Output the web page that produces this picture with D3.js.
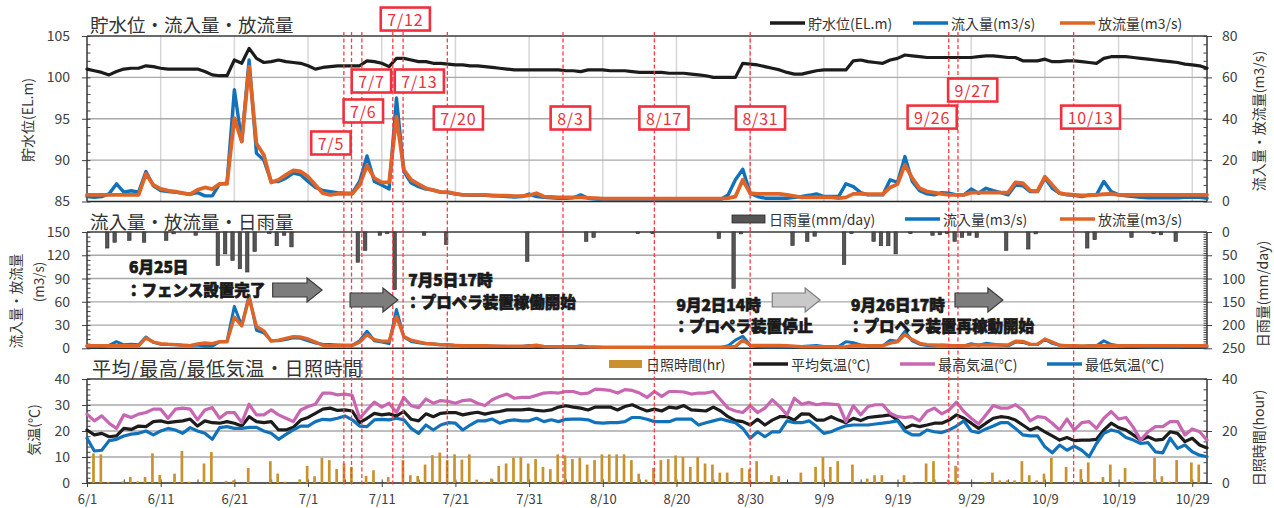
<!DOCTYPE html>
<html>
<head>
<meta charset="utf-8">
<script src="https://cdn.jsdelivr.net/npm/d3@7"></script>
<style>
  html, body { margin: 0; padding: 0; background: #fff; }
  svg { display: block; }
</style>
</head>
<body>
<svg id="chart" width="1274" height="508"></svg>
<script>
// ---------------- data (one value per day, 6/1 .. 10/31) ----------------
const xTickLabels = ["6/1","6/11","6/21","7/1","7/11","7/21","7/31","8/10","8/20","8/30","9/9","9/19","9/29","10/9","10/19","10/29"];

// 貯水位 (EL.m)
const level = [
  101.0,100.8,100.6,100.3,100.7,101.0,101.1,101.1,101.4,101.3,
  101.1,101.0,101.0,101.0,101.0,101.0,100.7,100.3,100.2,100.2,
  102.1,101.7,103.5,102.3,101.8,101.9,102.1,101.9,101.8,101.7,
  101.4,101.0,101.2,101.3,101.4,101.4,101.4,101.4,102.0,101.9,
  101.7,101.3,102.3,102.3,102.1,101.9,101.9,101.7,101.7,101.6,
  101.5,101.5,101.4,101.4,101.3,101.2,101.1,101.0,100.9,100.9,
  100.9,100.9,100.9,100.9,100.9,100.8,100.8,100.7,100.9,100.9,
  100.9,100.8,100.8,100.8,100.7,100.6,100.6,100.6,100.6,100.5,
  100.5,100.5,100.4,100.3,100.2,100.0,100.0,100.0,100.0,101.7,
  101.6,101.5,101.3,101.1,100.9,100.6,100.4,100.4,100.6,100.8,
  100.9,100.9,100.9,100.9,102.0,102.1,101.9,101.8,101.7,102.1,
  102.3,102.7,102.6,102.5,102.4,102.4,102.4,102.4,102.4,102.4,
  102.4,102.5,102.6,102.6,102.5,102.4,102.4,102.0,102.0,102.0,
  102.2,101.9,101.9,102.0,102.0,101.9,101.8,101.7,102.3,102.5,
  102.5,102.5,102.4,102.3,102.2,102.1,102.0,101.9,101.8,101.6,
  101.5,101.4,101.1
];

// 流入量 (m3/s)
const inflow = [
  2.4,2.0,2.4,3.7,8.5,4.5,5.2,4.5,14.5,7.6,
  5.3,4.8,4.5,4.0,3.5,4.3,2.7,2.7,8.5,8.9,
  54,29,68.4,23.3,20,9.7,9.7,11.3,13.7,12.9,
  9.7,6.8,5.3,4.8,4.3,4.0,4.0,9.7,22,9.7,
  8,6,50,14.5,8.9,7.2,6,5.5,4.5,4.3,
  3.6,3.2,3.0,3.0,3.0,2.8,2.6,2.4,2.2,2.4,
  3.6,2.4,2.0,1.8,1.6,1.6,1.8,3.2,1.6,1.2,
  1.0,1.0,1.0,1.0,1.0,1.0,1.0,1.0,0.9,0.9,
  0.9,0.9,0.9,0.9,0.9,0.9,1.0,3.2,10.5,15.6,
  4.0,2.4,1.6,1.6,1.6,1.6,2.0,2.4,3.0,3.7,
  2.4,2.4,2.4,8.6,7.2,4.3,3.2,3.2,3.2,10.5,
  9.2,21.7,9.7,5.2,3.7,3.2,4.3,4.0,3.2,3.2,
  6.0,4.0,6.4,5.3,4.3,3.2,8.0,7.6,4.8,4.8,
  11.3,6.4,4.0,3.2,3.0,2.4,3.2,3.2,9.7,4.8,
  3.2,2.8,2.4,2.0,1.8,1.8,1.8,1.8,1.8,2.0,
  2.0,2.0,1.6
];

// 放流量 (m3/s)
const outflow = [
  3.2,3.2,3.2,3.2,3.2,3.2,3.2,3.2,13.4,8,
  6.1,5.3,4.8,4.0,3.5,5.6,6.8,6.0,8.5,8.5,
  40.3,29,65.2,28,22.5,9.2,10.5,12.9,15,14.5,
  12,8,4,3.2,3.7,3.7,3.7,8,17.4,11.3,
  9.2,9.2,41,15.3,10.5,8.4,6.4,5.5,4.5,4.5,
  3.8,3.2,3.2,3.2,3.2,3.0,2.8,2.8,2.6,2.6,
  3.0,4.0,2.4,2.2,2.0,2.0,2.0,2.0,1.8,1.6,
  1.4,1.4,1.4,1.4,1.4,1.4,1.4,1.4,1.4,1.4,
  1.4,1.4,1.4,1.4,1.4,1.4,1.4,1.6,2.4,10.5,
  4.0,3.7,3.7,3.7,3.7,3.2,2.6,2.0,2.0,2.0,
  2.0,2.0,1.6,2.0,3.7,3.7,3.5,3.5,3.5,6.8,
  8.4,17.7,11.3,6.4,4.8,4.3,3.7,3.2,3.2,3.2,
  4.3,4.3,4.3,4.3,4.3,4.3,9.2,8.9,5.3,5.0,
  12,8,4.0,3.5,3.2,2.9,3.0,3.2,3.5,3.7,
  3.2,3.2,3.2,3.2,3.2,3.2,3.2,3.2,3.2,3.2,
  3.2,3.2,3.2
];

// 日雨量 (mm/day)
const rain = [
  0,0,34.5,22,0,18,0,22,0,0,
  18,4,0,0,7,0,0,72,47,61,
  79,86,42,0,3.6,29.5,7,32,0,0,
  0,0,0,0,0,0,65,39.5,0,7,
  3.6,124,0,0,0,7,0,0,27,0,
  0,0,0,0,0,0,0,0,0,63,
  0,0,0,0,0,0,0,20,11.5,0,
  0,0,0,0,3.6,0,3.6,0,0,0,
  0,0,0,0,0,14,0,121,4,0,
  0,0,0,0,0,29,0,20,9,0,
  0,0,70,3.6,0,0,20,29.5,29.5,47,
  0,3.6,0,0,7,6,3.6,20,11.5,7,
  11.5,0,0,0,39.5,0,0,36.6,4,0,
  0,0,0,0,0,34.5,16.5,0,0,0,
  0,11.5,0,0,3.6,6,0,20,0,0,
  0,0,0
];

// 日照時間 (hr)
const sunshine = [
  11.4,11,0.4,0,0.6,2.3,0.6,2.3,11.4,3.1,
  0,3.6,12.3,0.5,0,7.5,11.9,0,0.8,1,
  0,5.8,0,0,8.4,3.6,0.5,0,1.4,6.6,
  2.6,9.7,8.8,5.4,7.5,6.2,0,2.7,4.9,0,
  2.3,0,8.8,3,2.7,7.1,10.7,11.7,8.8,11,
  9,11,1.3,0.5,1.7,6.6,7.5,9.7,10,7.5,
  9.2,6.2,5.3,11,10.6,9.2,9.7,7.1,8.8,11,
  11,11,11,8.8,3.6,1.3,5.8,8.8,9.2,10.6,
  10,6.2,10,7.5,7.1,4,4,0.5,5.8,5.3,
  8.4,0.5,3,2.6,0,0,4,0,6.2,10,
  6.2,8.4,0,7.1,0,1.7,3,3,0,0,
  3,0.4,0,7.5,8.4,0,1.3,6.6,0,0,
  0,0.5,4,1,1,1,8.4,3,1,3.6,
  9.7,0,6.2,0,5.3,7.9,0.5,2.3,7.1,0,
  5.8,0.5,0,0.5,9.8,2.6,0.5,8.8,0,7.9,
  7.1,0,0
];

// 平均気温 (℃)
const tempAvg = [
  20.4,18.5,19.1,17.8,18.1,21.0,20.6,21.9,21.7,23.6,
  23.9,23.2,23.6,23.9,24.6,21.9,23.9,23.2,23.0,23.6,
  23.0,21.9,25.5,23.6,23.2,23.6,20.4,20.4,21.4,24.2,
  25.2,26.8,28.4,28.8,27.9,28.1,27.7,23.2,24.9,26.8,
  26.2,26.6,25.8,27.5,24.5,23.9,26.6,25.5,26.8,27.1,
  27.1,26.2,26.8,27.2,26.5,27.1,27.5,28.1,28.1,28.1,
  28.4,27.9,27.7,28.1,29.2,29.7,29.2,28.8,28.1,29.2,
  29.2,29.2,28.1,29.4,30.1,28.8,27.7,28.4,27.7,29.2,
  28.8,29.8,28.1,27.9,27.7,29.2,27.7,25.5,24.0,23.6,
  22.3,24.5,22.3,24.2,25.5,25.5,24.2,26.6,26.5,24.2,
  24.2,25.5,24.2,23.2,24.9,24.0,25.2,25.5,25.8,26.2,
  24.2,21.0,22.3,21.7,22.3,23.0,23.0,24.2,26.2,24.9,
  23.0,21.0,23.0,24.9,25.5,25.2,24.2,22.3,20.4,21.4,
  19.7,18.1,16.5,17.5,16.3,16.5,16.5,16.8,20.4,23.0,
  21.3,20.4,18.5,16.5,17.8,16.5,16.8,19.7,19.1,15.9,
  17.2,14.6,13.5
];

// 最高気温 (℃)
const tempMax = [
  26.5,23.9,25.8,23.0,21.0,26.2,25.2,26.5,27.1,28.4,
  28.4,24.9,28.4,28.8,28.4,24.3,28.1,29.0,24.9,27.1,
  27.1,23.2,30.3,26.2,26.2,28.1,26.2,24.9,23.6,28.1,
  29.4,30.3,34.6,34.6,33.9,34.2,33.7,24.9,28.1,31.1,
  29.2,30.7,27.1,32.9,29.7,29.0,32.3,30.7,31.7,31.4,
  30.7,31.7,32.0,30.7,29.8,32.0,33.3,34.2,32.6,32.9,
  32.9,33.7,34.6,34.8,34.6,35.2,35.2,34.3,34.6,36.1,
  35.9,35.6,34.6,35.9,35.6,34.6,32.9,35.2,33.3,35.2,
  35.2,35.0,34.2,34.6,34.6,35.2,32.0,28.8,27.7,27.1,
  29.7,27.1,28.8,32.0,29.4,26.2,32.6,30.3,31.0,30.1,
  30.5,30.3,30.1,23.6,29.7,26.2,29.4,30.1,30.1,26.8,
  25.5,25.2,25.5,23.9,27.5,28.8,26.6,28.1,31.1,27.5,
  24.9,22.7,26.2,29.8,28.8,28.8,30.1,28.1,23.9,25.5,
  25.2,23.0,20.4,24.6,20.4,23.2,23.6,21.0,24.9,27.5,
  24.6,25.2,21.4,16.5,19.7,21.7,21.7,23.6,23.6,18.5,
  20.8,19.7,16.5
];

// 最低気温 (℃)
const tempMin = [
  17.2,12.3,12.6,16.3,16.8,18.1,18.8,19.1,20.0,18.5,
  20.0,21.0,20.4,19.1,21.3,20.0,19.1,16.8,21.3,21.7,
  21.0,21.0,21.4,21.4,20.0,19.1,16.8,18.7,20.4,21.9,
  21.9,23.6,24.5,24.3,24.9,25.8,24.3,21.9,21.7,24.3,
  24.5,24.3,24.9,24.3,21.0,19.1,22.3,20.4,22.3,23.2,
  23.0,20.4,22.3,23.9,23.9,24.6,23.0,23.9,24.3,23.9,
  23.9,24.9,23.6,24.3,23.6,24.5,24.6,24.6,24.3,23.2,
  23.0,23.2,23.2,23.6,25.2,25.2,24.5,23.6,23.6,23.6,
  24.6,24.6,24.6,22.3,23.2,23.9,24.6,23.9,23.2,21.0,
  17.2,19.7,17.8,19.7,19.7,23.9,23.2,23.2,23.9,21.7,
  19.1,19.7,21.0,22.0,22.3,22.3,22.3,22.7,23.0,23.4,
  23.9,20.0,18.5,18.5,20.4,19.7,19.4,20.4,21.9,23.9,
  20.0,19.4,20.8,21.9,23.2,23.2,21.0,18.5,18.1,18.1,
  13.9,11.6,14.6,12.6,14.2,12.6,10.1,15.2,19.1,20.4,
  19.7,17.5,16.5,15.2,15.5,12.0,11.6,17.2,13.3,14.6,
  12.0,10.7,10.1
];

// event markers: label, day position of the dashed line, label box position (day, EL.m)
const eventLabels = ["7/5","7/6","7/7","7/12","7/13","7/20","8/3","8/17","8/31","9/26","9/27","10/13"];
const eventDays   = [34.86,35.9,37.3,41.5,42.9,48.9,64.6,77.0,90.0,116.95,118.2,133.9];
const boxDays     = [33.1,37.5,38.6,43.2,45.1,50.4,65.6,78.3,91.4,114.7,120.2,136.2];
const boxLevels   = [92.07,95.94,99.56,107.05,99.56,95.09,95.09,95.09,95.09,95.2,98.47,95.2];

// operation notes on the middle panel (day, m3/s)
const noteLines = [
  ["6月25日", "：フェンス設置完了"],
  ["7月5日17時", "：プロペラ装置稼働開始"],
  ["9月2日14時", "：プロペラ装置停止"],
  ["9月26日17時", "：プロペラ装置再稼動開始"]
];
const noteDays = [5.7, 43.6, 80.0, 103.7];
const noteRows = [[96.5, 67.5], [80.0, 52.0], [47.5, 21.0], [47.5, 21.0]];
const arrowFrom = [25.2, 35.7, 93.0, 117.8];
const arrowTo   = [31.9, 42.2, 99.5, 124.3];
const arrowAt   = [75.2, 62.3, 62.3, 62.3];
const arrowLight = [false, false, true, false];

// ---------------- layout ----------------
const FONT = '"Noto Sans CJK JP","Noto Sans CJK SC","Noto Sans",sans-serif';
const AXC = "#404040";
const C_BLACK = "#1c1c1c", C_BLUE = "#1272b9", C_ORANGE = "#de6527",
      C_PINK = "#c866b1", C_SUN = "#c9922f", C_RAIN = "#555555", C_RED = "#f0303c";

const svg = d3.select("#chart").attr("font-family", FONT);
const X0 = 87, X1 = 1207;
const nDays = level.length;
const x = d3.scaleLinear().domain([0, nDays - 1]).range([X0, X1]);
const idx = d3.range(nDays);

const P1 = { top: 36, bottom: 201.5 };
const P2 = { top: 232, bottom: 348.3 };
const P3 = { top: 379, bottom: 483 };

const y1 = d3.scaleLinear([85, 105], [P1.bottom, P1.top]);
const y1r = d3.scaleLinear([0, 80], [P1.bottom, P1.top]);
const y2 = d3.scaleLinear([0, 150], [P2.bottom, P2.top]);
const y2r = d3.scaleLinear([0, 250], [P2.top, P2.bottom]);
const y3 = d3.scaleLinear([0, 40], [P3.bottom, P3.top]);
const y3r = d3.scaleLinear([0, 40], [P3.bottom, P3.top]);

const gridLayer = svg.append("g");
const markLayer = svg.append("g");
const overLayer = svg.append("g");

function frame(p, yS, gridVals, vGridDays) {
  const g = gridLayer.append("g");
  if (vGridDays) {
    g.selectAll(null).data(vGridDays).join("line")
      .attr("x1", d => x(d)).attr("x2", d => x(d))
      .attr("y1", p.top).attr("y2", p.bottom)
      .attr("stroke", "#d6d6d6").attr("stroke-width", 1.5);
  }
  g.selectAll(null).data(gridVals).join("line")
    .attr("x1", X0).attr("x2", X1)
    .attr("y1", d => yS(d)).attr("y2", d => yS(d))
    .attr("stroke", "#a8a8a8").attr("stroke-width", 1.3);
  g.append("line").attr("x1", X0).attr("x2", X1).attr("y1", p.top).attr("y2", p.top)
    .attr("stroke", "#3a3a3a").attr("stroke-width", 1.3);
  g.append("line").attr("x1", X0).attr("x2", X1).attr("y1", p.bottom).attr("y2", p.bottom)
    .attr("stroke", "#262626").attr("stroke-width", 1.4);
  g.append("line").attr("x1", X0).attr("x2", X0).attr("y1", p.top).attr("y2", p.bottom)
    .attr("stroke", "#262626").attr("stroke-width", 1.4);
  g.append("line").attr("x1", X1).attr("x2", X1).attr("y1", p.top).attr("y2", p.bottom)
    .attr("stroke", "#262626").attr("stroke-width", 1.4);
}

function styleAxis(g) {
  g.select(".domain").remove();
  g.selectAll("line").attr("stroke", AXC);
  g.selectAll("text").attr("font-family", FONT).attr("font-size", 14).attr("fill", AXC);
}

function yAxes(yL, majL, minL, yR, majR, minR) {
  gridLayer.append("g").attr("transform", `translate(${X0},0)`)
    .call(d3.axisLeft(yL).tickValues(majL).tickSize(5).tickPadding(12)).call(styleAxis);
  gridLayer.append("g").attr("transform", `translate(${X0},0)`)
    .call(d3.axisRight(yL).tickValues(minL).tickSize(3.5).tickFormat("")).call(styleAxis);
  gridLayer.append("g").attr("transform", `translate(${X1},0)`)
    .call(d3.axisRight(yR).tickValues(majR).tickSize(5).tickPadding(10)).call(styleAxis);
  gridLayer.append("g").attr("transform", `translate(${X1},0)`)
    .call(d3.axisLeft(yR).tickValues(minR).tickSize(3.5).tickFormat("")).call(styleAxis);
}

const tenDays = d3.range(10, nDays, 10);
frame(P1, y1, [90, 95, 100], tenDays);
frame(P2, y2, [30, 60, 90, 120], null);
frame(P3, y3, [10, 20, 30], null);

yAxes(y1, d3.range(85, 106, 5), d3.range(85, 106, 1), y1r, d3.range(0, 81, 20), d3.range(0, 81, 4));
yAxes(y2, d3.range(0, 151, 30), d3.range(0, 151, 6), y2r, d3.range(0, 251, 50), d3.range(0, 251, 5));
yAxes(y3, d3.range(0, 41, 10), d3.range(0, 41, 2), y3r, d3.range(0, 41, 20), d3.range(0, 41, 4));

// date axis under the bottom panel
gridLayer.append("g").attr("transform", `translate(0,${P3.bottom})`)
  .call(d3.axisBottom(x).tickValues(d3.range(0, nDays, 10)).tickFormat((d, i) => xTickLabels[i])
    .tickSize(4).tickPadding(7.5))
  .call(styleAxis)
  .call(g => g.selectAll("text").attr("font-size", 13));
gridLayer.append("g").attr("transform", `translate(0,${P3.bottom})`)
  .call(d3.axisTop(x).tickValues(d3.range(0, nDays, 5)).tickSize(3.5).tickFormat(""))
  .call(styleAxis);

// ---------------- marks ----------------
function drawLine(data, xS, yS, color, width) {
  markLayer.append("path")
    .datum(data)
    .attr("fill", "none")
    .attr("stroke", color)
    .attr("stroke-width", width)
    .attr("stroke-linejoin", "round")
    .attr("stroke-linecap", "round")
    .attr("d", d3.line().x((d, i) => xS(i)).y(d => yS(d)));
}

// panel 1: level, inflow, outflow
drawLine(level, x, y1, C_BLACK, 3.2);
drawLine(inflow, x, y1r, C_BLUE, 3.4);
drawLine(outflow, x, y1r, C_ORANGE, 3.8);

// panel 2: daily rain hanging from the top, flows on the left axis
const RAIN_SHIFT = 0.75, RAIN_W = 3.4;
markLayer.append("g").selectAll("rect")
  .data(idx.filter(i => rain[i] > 0))
  .join("rect")
  .attr("x", i => x(i + RAIN_SHIFT) - RAIN_W / 2)
  .attr("y", P2.top)
  .attr("width", RAIN_W)
  .attr("height", i => y2r(rain[i]) - P2.top)
  .attr("fill", C_RAIN)
  .attr("stroke", "#2a2a2a").attr("stroke-width", 0.6);
drawLine(inflow, x, y2, C_BLUE, 3.0);
drawLine(outflow, x, y2, C_ORANGE, 3.4);

// panel 3: sunshine bars and temperatures
const SUN_SHIFT = 0.88, SUN_W = 2.7;
markLayer.append("g").selectAll("rect")
  .data(idx.filter(i => sunshine[i] > 0))
  .join("rect")
  .attr("x", i => x(i + SUN_SHIFT) - SUN_W / 2)
  .attr("y", i => y3r(sunshine[i]))
  .attr("width", SUN_W)
  .attr("height", i => P3.bottom - y3r(sunshine[i]))
  .attr("fill", C_SUN);
drawLine(tempAvg, x, y3, C_BLACK, 3.2);
drawLine(tempMax, x, y3, C_PINK, 3.2);
drawLine(tempMin, x, y3, C_BLUE, 3.2);

// ---------------- event markers ----------------
overLayer.append("g").selectAll("line")
  .data(eventDays)
  .join("line")
  .attr("x1", d => x(d)).attr("x2", d => x(d))
  .attr("y1", P1.top - 4).attr("y2", P3.bottom + 3)
  .attr("stroke", "#ff3a44").attr("stroke-width", 1.3)
  .attr("stroke-dasharray", "4,2.5");

const boxes = overLayer.append("g").selectAll("g")
  .data(eventLabels)
  .join("g")
  .attr("transform", (d, i) => `translate(${x(boxDays[i])},${y1(boxLevels[i])})`);
boxes.append("rect").attr("fill", "#fff").attr("stroke", C_RED).attr("stroke-width", 2.6);
boxes.append("text")
  .attr("text-anchor", "middle").attr("dominant-baseline", "central")
  .attr("font-size", 16).attr("letter-spacing", 0.8)
  .attr("fill", "#e8323d")
  .text(d => d);
boxes.each(function () {
  const g = d3.select(this);
  const w = g.select("text").node().getComputedTextLength() + 13;
  g.select("rect").attr("x", -w / 2).attr("y", -11.5).attr("width", w).attr("height", 23);
});

// ---------------- notes and arrows ----------------
noteLines.forEach((lines, k) => {
  lines.forEach((t, j) => {
    overLayer.append("text")
      .attr("x", x(noteDays[k]) + (j === 1 ? -3 : 0))
      .attr("y", y2(noteRows[k][j]))
      .attr("font-size", 15.5).attr("font-weight", 900)
      .attr("fill", "#1a1a1a")
      .attr("stroke", "#1a1a1a").attr("stroke-width", 0.7)
      .attr("paint-order", "stroke")
      .text(t);
  });
  const x0 = x(arrowFrom[k]), x1 = x(arrowTo[k]), cy = y2(arrowAt[k]);
  const xh = x1 - 15, bh = 7, hh = 12;
  overLayer.append("path")
    .attr("d", `M${x0},${cy - bh}L${xh},${cy - bh}L${xh},${cy - hh}L${x1},${cy}L${xh},${cy + hh}L${xh},${cy + bh}L${x0},${cy + bh}Z`)
    .attr("fill", arrowLight[k] ? "#c9c9c9" : "#7d7d7d")
    .attr("stroke", arrowLight[k] ? "#7d7d7d" : "#3d3d3d")
    .attr("stroke-width", 1.2);
});

// ---------------- titles ----------------
const titles = [
  ["貯水位・流入量・放流量", 90, 32, 18.5, 0],
  ["流入量・放流量・日雨量", 90, 228.5, 18.5, 0],
  ["平均/最高/最低気温・日照時間", 92, 375.5, 19, 0.6]
];
titles.forEach(([t, tx, ty, fs, ls]) => {
  svg.append("text").attr("x", tx).attr("y", ty).attr("font-size", fs)
    .attr("letter-spacing", ls).attr("fill", "#333").text(t);
});

function vLabel(t, cx, cy, size) {
  svg.append("text")
    .attr("transform", `translate(${cx},${cy}) rotate(-90)`)
    .attr("text-anchor", "middle").attr("dominant-baseline", "central")
    .attr("font-size", size || 14).attr("fill", "#333")
    .text(t);
}
vLabel("貯水位(EL.m)", 27, 120);
vLabel("流入量・放流量(m3/s)", 1258, 121);
vLabel("流入量・放流量", 15, 301, 13.5);
vLabel("(m3/s)", 38, 282, 13.5);
vLabel("日雨量(mm/day)", 1262, 294);
vLabel("気温(℃)", 33, 430);
vLabel("日照時間(hour)", 1258, 438);

// ---------------- legends ----------------
function legendLine(x0, y, color, label) {
  svg.append("line").attr("x1", x0).attr("x2", x0 + 35).attr("y1", y).attr("y2", y)
    .attr("stroke", color).attr("stroke-width", 3.6);
  svg.append("text").attr("x", x0 + 38).attr("y", y).attr("dominant-baseline", "central")
    .attr("font-size", 14).attr("fill", "#333").text(label);
}
function legendRect(x0, y, color, stroke, label) {
  svg.append("rect").attr("x", x0).attr("y", y - 4).attr("width", 33).attr("height", 8)
    .attr("fill", color).attr("stroke", stroke).attr("stroke-width", stroke ? 0.8 : 0);
  svg.append("text").attr("x", x0 + 37).attr("y", y).attr("dominant-baseline", "central")
    .attr("font-size", 14).attr("fill", "#333").text(label);
}
legendLine(770, 23, C_BLACK, "貯水位(EL.m)");
legendLine(913, 23, C_BLUE, "流入量(m3/s)");
legendLine(1060, 23, C_ORANGE, "放流量(m3/s)");

legendRect(732, 219, C_RAIN, "#2a2a2a", "日雨量(mm/day)");
legendLine(905, 219, C_BLUE, "流入量(m3/s)");
legendLine(1060, 219, C_ORANGE, "放流量(m3/s)");

legendRect(609, 364, C_SUN, null, "日照時間(hr)");
legendLine(753, 364, C_BLACK, "平均気温(℃)");
legendLine(900, 364, C_PINK, "最高気温(℃)");
legendLine(1047, 364, C_BLUE, "最低気温(℃)");
</script>
</body>
</html>
